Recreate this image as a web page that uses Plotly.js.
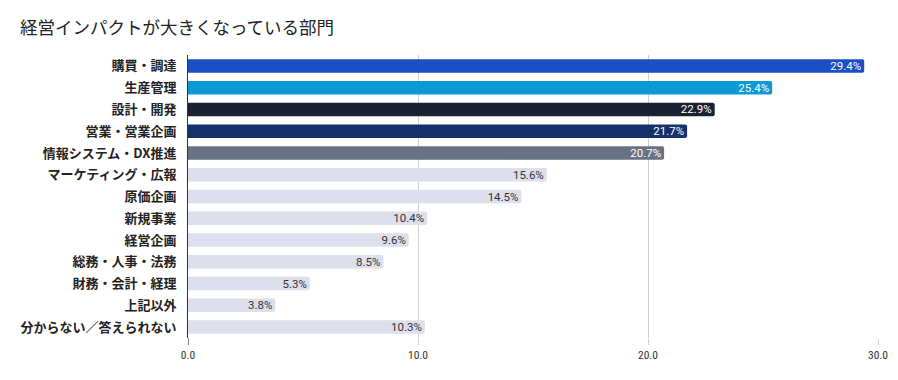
<!DOCTYPE html>
<html>
<head>
<meta charset="utf-8">
<script src="https://cdn.plot.ly/plotly-3.0.1.min.js"></script>
<style>html,body{margin:0;padding:0;background:#fff;}#chart{width:898px;height:380px;}</style>
</head>
<body>
<div id="chart"></div>
<script>
const categories = ["購買・調達","生産管理","設計・開発","営業・営業企画","情報システム・DX推進","マーケティング・広報","原価企画","新規事業","経営企画","総務・人事・法務","財務・会計・経理","上記以外","分からない／答えられない"];
const values = [29.4,25.4,22.9,21.7,20.7,15.6,14.5,10.4,9.6,8.5,5.3,3.8,10.3];
const barColors = ["#1c4fc4","#0b9ad4","#1a2232","#16306a","#697284","#dde0ec","#dde0ec","#dde0ec","#dde0ec","#dde0ec","#dde0ec","#dde0ec","#dde0ec"];
const labelColors = ["#ffffff","#ffffff","#ffffff","#ffffff","#ffffff","#333333","#333333","#333333","#333333","#333333","#333333","#333333","#333333"];
const xTicks = [0,10,20,30];
const xTickText = ["0.0","10.0","20.0","30.0"];

const trace = {
  type: "bar",
  orientation: "h",
  x: values,
  y: categories,
  marker: {color: barColors},
  text: values.map(v => v.toFixed(1) + "%"),
  textposition: "inside",
  insidetextanchor: "end",
  textangle: 0,
  constraintext: "none",
  insidetextfont: {family: "Roboto, sans-serif", size: 11.5, color: labelColors},
  hoverinfo: "none",
  cliponaxis: false
};

const layout = {
  width: 898, height: 380,
  margin: {l: 188, r: 20, t: 55, b: 42, pad: 0},
  paper_bgcolor: "#ffffff", plot_bgcolor: "#ffffff",
  bargap: 0.38,
  barcornerradius: 2,
  showlegend: false,
  uniformtext: {mode: false},
  title: {
    text: "経営インパクトが大きくなっている部門",
    x: 20/898, xref: "container", xanchor: "left",
    y: 1 - 28/380, yref: "container", yanchor: "middle",
    font: {family: "Noto Sans CJK JP, sans-serif", size: 17.5, color: "#222222"}
  },
  xaxis: {
    range: [0, 30],
    tickvals: xTicks, ticktext: xTickText,
    showgrid: true, gridcolor: "#d0d0d0", gridwidth: 1,
    zeroline: false,
    ticks: "outside", ticklen: 6, tickcolor: "#d0d0d0",
    tickfont: {family: "Roboto Condensed, Roboto, sans-serif", size: 11.5, color: "#333333"},
    showline: false,
    fixedrange: true
  },
  yaxis: {
    autorange: "reversed",
    showline: true, linecolor: "#333333", linewidth: 1,
    ticks: "", ticklabelstandoff: 8,
    tickfont: {family: "Noto Sans CJK JP, sans-serif", size: 13, color: "#222222", weight: "bold"},
    showgrid: false,
    fixedrange: true
  },
  shapes: [{
    type: "line", xref: "x", yref: "paper",
    x0: 0, x1: 0, y0: 0, y1: -0.025,
    line: {color: "#333333", width: 1}
  }]
};

Plotly.newPlot("chart", [trace], layout, {displayModeBar: false, staticPlot: true});
</script>
</body>
</html>
